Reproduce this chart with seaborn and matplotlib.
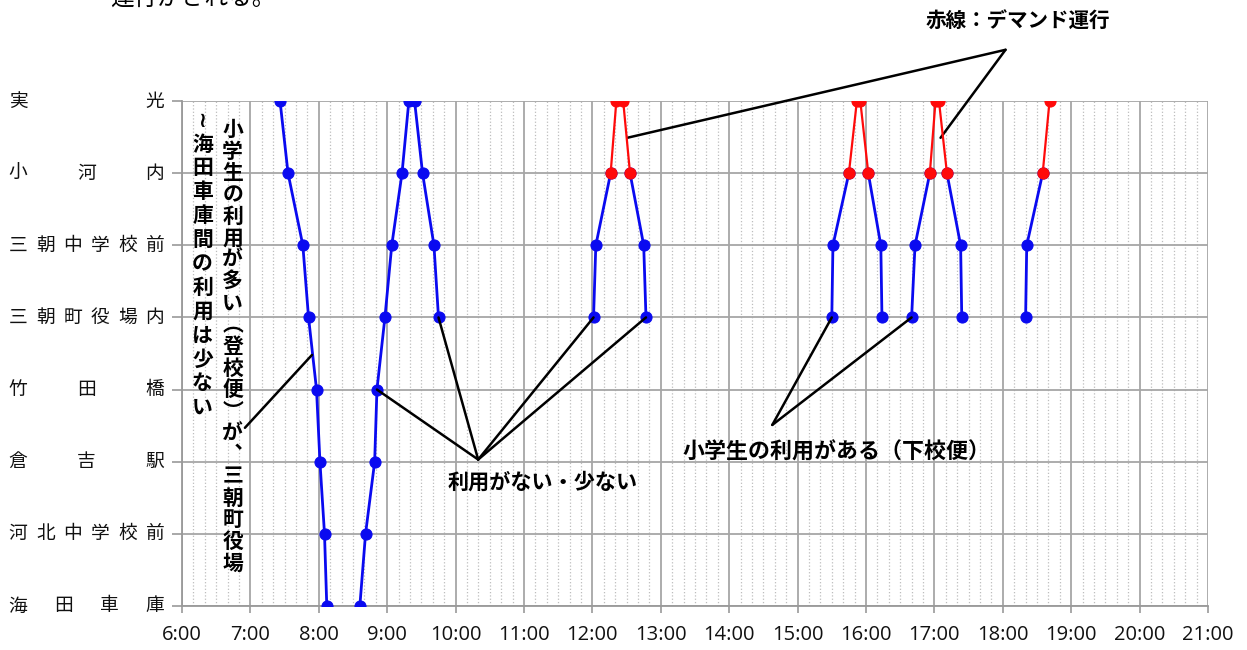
import matplotlib
matplotlib.use('Agg')
import matplotlib.pyplot as plt
import matplotlib.transforms as mtransforms
from matplotlib.ticker import MultipleLocator
import pandas as pd
import seaborn as sns

# stops from top (実光) to bottom (海田車庫)
stops = ['実光', '小河内', '三朝中学校前', '三朝町役場内', '竹田橋', '倉吉駅', '河北中学校前', '海田車庫']
hour_ticks = list(range(6, 22))
hour_labels = [f'{h}:00' for h in hour_ticks]

# each trip: stop indices and times
trip1_stops = [0, 1, 2, 3, 4, 5, 6, 7]
trip1_times = ['7:26', '7:33', '7:46', '7:51', '7:58', '8:01', '8:05', '8:07']
trip2_stops = [7, 6, 5, 4, 3, 2, 1, 0]
trip2_times = ['8:36', '8:41', '8:49', '8:51', '8:58', '9:04', '9:13', '9:19']
trip3_stops = [0, 1, 2, 3]
trip3_times = ['9:24', '9:31', '9:41', '9:45']
trip4_stops = [3, 2, 1, 0]
trip4_times = ['12:01', '12:03', '12:16', '12:21']
trip5_stops = [0, 1, 2, 3]
trip5_times = ['12:27', '12:33', '12:45', '12:47']
trip6_stops = [3, 2, 1, 0]
trip6_times = ['15:30', '15:31', '15:45', '15:52']
trip7_stops = [0, 1, 2, 3]
trip7_times = ['15:55', '16:02', '16:13', '16:14']
trip8_stops = [3, 2, 1, 0]
trip8_times = ['16:40', '16:43', '16:56', '17:01']
trip9_stops = [0, 1, 2, 3]
trip9_times = ['17:04', '17:11', '17:23', '17:24']
trip10_stops = [3, 2, 1, 0]
trip10_times = ['18:20', '18:21', '18:35', '18:41']

trips = [
    (trip1_stops, trip1_times, False),
    (trip2_stops, trip2_times, False),
    (trip3_stops, trip3_times, False),
    (trip4_stops, trip4_times, True),
    (trip5_stops, trip5_times, True),
    (trip6_stops, trip6_times, True),
    (trip7_stops, trip7_times, True),
    (trip8_stops, trip8_times, True),
    (trip9_stops, trip9_times, True),
    (trip10_stops, trip10_times, True),
]


def to_hours(s):
    h, m = s.split(':')
    return int(h) + int(m) / 60


rows = []
for i, (st, tm, demand) in enumerate(trips):
    for s, t in zip(st, tm):
        # demand trips run the 小河内-実光 section as デマンド (red)
        if not demand or s >= 1:
            rows.append(dict(seg=f'{i}b', kind='blue', time=to_hours(t), pos=s))
        if demand and s <= 1:
            rows.append(dict(seg=f'{i}r', kind='red', time=to_hours(t), pos=s))
df = pd.DataFrame(rows)

sns.set_theme(style='white')
plt.rcParams['font.family'] = ['Noto Sans CJK JP', 'DejaVu Sans']

fig = plt.figure(figsize=(12.47, 6.5), dpi=100)
ax = fig.add_axes([182 / 1247, 1 - 606 / 650, (1208 - 182) / 1247, (606 - 101) / 650])

blue = '#0a0af0'
red = '#ff0a0a'
sns.lineplot(data=df[df.kind == 'blue'], x='time', y='pos', units='seg', estimator=None,
             sort=False, color=blue, marker='o', markersize=8, markeredgecolor=blue,
             linewidth=2, ax=ax, zorder=3)
sns.lineplot(data=df[df.kind == 'red'], x='time', y='pos', units='seg', estimator=None,
             sort=False, color=red, marker='o', markersize=8, markeredgecolor=red,
             linewidth=1.6, ax=ax, zorder=4)

ax.set_xlim(6, 21)
ax.set_ylim(7, 0)
ax.set_xticks(hour_ticks)
ax.set_xticklabels(hour_labels, fontsize=14.5, family=['Open Sans', 'DejaVu Sans'])
ax.xaxis.set_minor_locator(MultipleLocator(1 / 6))
ax.set_yticks(range(len(stops)))
ax.set_yticklabels([''] * len(stops))
ax.set_xlabel('')
ax.set_ylabel('')
ax.grid(which='major', axis='both', color='#a6a6a6', linewidth=1.3)
ax.grid(which='minor', axis='x', color='#bdbdbd', linestyle=':', linewidth=0.9)
ax.set_axisbelow(True)
for side in ['top', 'right']:
    ax.spines[side].set_visible(False)
for side in ['left', 'bottom']:
    ax.spines[side].set_color('#999999')
    ax.spines[side].set_linewidth(1.3)
ax.tick_params(axis='y', which='major', left=True, length=7, width=1.2, color='#999999', pad=0)
ax.tick_params(axis='x', which='major', bottom=True, length=5, width=1.2, color='#999999',
               pad=9, labelcolor='#111111')
ax.tick_params(axis='x', which='minor', bottom=False)

# stop names, characters spread evenly across the label width
trans = mtransforms.blended_transform_factory(fig.transFigure, ax.transData)
x0, x1 = 18 / 1247, 155 / 1247
for i, name in enumerate(stops):
    n = len(name)
    for k, ch in enumerate(name):
        x = x0 + (x1 - x0) * k / (n - 1)
        ax.text(x, i, ch, transform=trans, ha='center', va='center', fontsize=13.5, color='#111111')

bold = dict(fontweight='bold', color='black')
line = dict(arrowstyle='-', color='black', lw=1.8, shrinkA=0, shrinkB=0)

# vertical notes
col1 = '小学生の利用が多い︵登校便︶が︑三朝町役場'
col2 = '≀海田車庫間の利用は少ない'
ax.text(6.74, 0.25, '\n'.join(col1), ha='center', va='top', fontsize=15,
        linespacing=1.04, **bold)
ax.text(6.3, 0.12, '\n'.join(col2), ha='center', va='top', fontsize=15,
        linespacing=1.17, **bold)
ax.annotate('', xy=(7.90, 3.52), xytext=(6.92, 4.53), arrowprops=line, annotation_clip=False)

# 赤線
ax.text(18.22, -1.1, '赤線：デマンド運行', ha='center', va='center', fontsize=14.8, **bold)
for p in [(12.51, 0.51), (17.09, 0.51)]:
    ax.annotate('', xy=p, xytext=(18.04, -0.71), arrowprops=line, annotation_clip=False)

# 利用がない・少ない
ax.text(11.28, 5.28, '利用がない・少ない', ha='center', va='center', fontsize=15.2, **bold)
for p in [(to_hours('8:51'), 4), (to_hours('9:45'), 3), (to_hours('12:01'), 3), (to_hours('12:47'), 3)]:
    ax.annotate('', xy=p, xytext=(10.33, 4.97), arrowprops=line)

# 小学生の利用がある（下校便）
ax.text(15.57, 4.87, '小学生の利用がある（下校便）', ha='center', va='center', fontsize=15.8, **bold)
for p in [(to_hours('15:30'), 3), (to_hours('16:40'), 3)]:
    ax.annotate('', xy=p, xytext=(14.63, 4.49), arrowprops=line)

# clipped text line at the very top of the page
fig.text(110 / 1247, 1 - 5 / 650, '運行がされる。', ha='left', va='baseline', fontsize=17, color='black')

fig.savefig('out.png', dpi=100)
